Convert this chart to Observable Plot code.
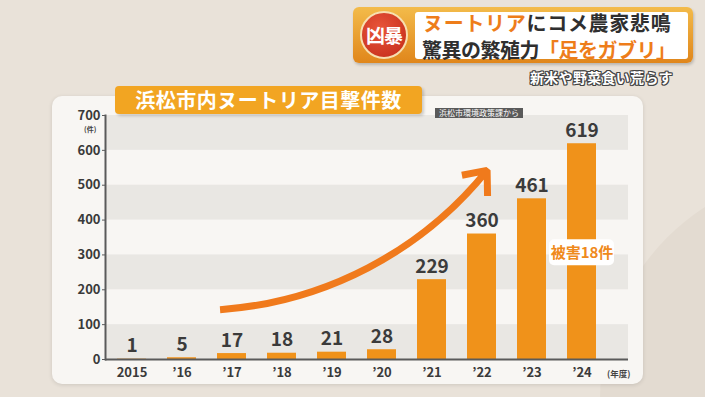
<!DOCTYPE html>
<html>
<head>
<meta charset="utf-8">
<script src="https://cdn.jsdelivr.net/npm/d3@7"></script>
<script src="https://cdn.jsdelivr.net/npm/@observablehq/plot@0.6"></script>
<style>
  html, body { margin: 0; padding: 0; }
  body { width: 705px; height: 397px; overflow: hidden; font-family: "Noto Sans CJK JP", "Noto Sans", sans-serif; }
  #wrap { position: relative; width: 705px; height: 397px; background: #e9e2d9; overflow: hidden; }
  #deco { position: absolute; left: 600px; top: 170px; width: 460px; height: 460px; border-radius: 50%; background: #e3dbd1; }
  #card { position: absolute; left: 52px; top: 96px; width: 591px; height: 288px; background: #f8f6f3; border-radius: 10px; box-shadow: 0 1px 4px rgba(0,0,0,0.12); }
  #chart { position: absolute; left: 0; top: 0; }
  .abs { position: absolute; white-space: nowrap; }
  #title { left: 115px; top: 86px; width: 307px; height: 28px; background: #f2a522; border-radius: 4px; box-shadow: 2px 2px 3px rgba(0,0,0,0.18);
           color: #fff; font-weight: 700; font-size: 20px; line-height: 28px; text-align: center; letter-spacing: 0.5px; }
  #source { left: 435px; top: 108px; width: 88px; height: 10px; background: #5a5a5a; color: #fff; font-size: 8px; line-height: 10px; text-align: center; }
  #unit { left: 84px; top: 126px; font-size: 7px; line-height: 7px; color: #444; font-weight: 700; }
  #nendo { left: 607px; top: 368px; font-size: 8.5px; line-height: 10px; color: #444; font-weight: 700; }
  #hframe { left: 353px; top: 7px; width: 340px; height: 56px; border-radius: 6px; background: linear-gradient(#f3bb4a, #e0861b); box-shadow: 1px 2px 3px rgba(0,0,0,0.2); }
  #hbox { left: 415px; top: 12px; width: 273px; height: 47px; background: #fff; border-radius: 3px; }
  #badge { left: 360px; top: 11px; width: 44px; height: 44px; border-radius: 50%; background: radial-gradient(circle at 40% 35%, #e8553a, #c22a18); border: 2px solid #f7dfb0;
           color: #fff; font-weight: 700; font-size: 19px; line-height: 44px; text-align: center; letter-spacing: -1px; }
  .hl { font-weight: 700; font-size: 20px; color: #2f2f2f; line-height: 20px; height: 20px; }
  .or { color: #ee7d1a; }
  #l1 { left: 423px; top: 13px; letter-spacing: 0.7px; }
  #l2 { left: 422px; top: 40px; letter-spacing: -0.5px; }
  #sub { left: 530px; top: 69px; font-size: 14px; line-height: 16px; font-weight: 700; color: #fff; letter-spacing: 0.3px;
         text-shadow: -1px -1px 0 #444, 1px -1px 0 #444, -1px 1px 0 #444, 1px 1px 0 #444, 0 1px 0 #444, 0 -1px 0 #444, 1px 0 0 #444, -1px 0 0 #444; }
</style>
</head>
<body>
<div id="wrap">
  <div id="deco"></div>
  <div id="card"></div>
  <div id="chart"></div>
  <div class="abs" id="title">浜松市内ヌートリア目撃件数</div>
  <div class="abs" id="source">浜松市環境政策課から</div>
  <div class="abs" id="unit">(件)</div>
  <div class="abs" id="nendo">(年度)</div>
  <div class="abs" id="hframe"></div>
  <div class="abs" id="hbox"></div>
  <div class="abs" id="badge">凶暴</div>
  <div class="abs hl" id="l1"><span class="or">ヌートリア</span>にコメ農家悲鳴</div>
  <div class="abs hl" id="l2">驚異の繁殖力<span class="or">「足をガブリ」</span></div>
  <div class="abs" id="sub">新米や野菜食い荒らす</div>
</div>
<script>
// ---- data ----
const years = ["2015", "’16", "’17", "’18", "’19", "’20", "’21", "’22", "’23", "’24"];
const counts = [1, 5, 17, 18, 21, 28, 229, 360, 461, 619];
const yTicks = [0, 100, 200, 300, 400, 500, 600, 700];
const bandStarts = [0, 200, 400, 600];
const bandEnds = [100, 300, 500, 700];
const trendFrom = {year: "’17", value: 146};
const trendTo = {year: "’22", value: 525};
const noteYear = "’24";
const noteValue = 306;
const noteText = "被害18件";

// ---- build tables ----
const data = years.map((y, i) => ({year: y, count: counts[i]}));
const bands = bandStarts.map((s, i) => ({y1: s, y2: bandEnds[i]}));
const trend = [{x1: trendFrom.year, y1: trendFrom.value, x2: trendTo.year, y2: trendTo.value}];
const note = [{year: noteYear, value: noteValue, text: noteText}];

const font = "'Noto Sans CJK JP', 'Noto Sans', sans-serif";

const chart = Plot.plot({
  width: 705,
  height: 397,
  marginLeft: 105,
  marginRight: 77,
  marginTop: 115,
  marginBottom: 38,
  style: {background: "transparent", fontFamily: font, overflow: "visible"},
  x: {domain: years, paddingInner: 0.43, paddingOuter: 0.36, align: 0.28},
  y: {domain: [0, 700]},
  marks: [
    Plot.rect(bands, {y1: "y1", y2: "y2", fill: "#e9e7e3"}),
    Plot.barY(data, {x: "year", y: "count", fill: "#f0921a"}),
    Plot.text(data, {x: "year", y: "count", text: d => String(d.count), dy: -13, fontSize: 19, fontWeight: 700, fill: "#3b3b3b"}),
    Plot.arrow(trend, {x1: "x1", y1: "y1", x2: "x2", y2: "y2", bend: -22, stroke: "#f07a1c", strokeWidth: 7, headLength: 5.5, headAngle: 80, insetStart: -12, insetEnd: -8, strokeLinejoin: "miter", strokeLinecap: "butt"}),
    Plot.rect(note, {x: "year", y1: "value", y2: "value", insetLeft: -18, insetRight: -18, insetTop: -13, insetBottom: -13, rx: 5, fill: "#ffffff"}),
    Plot.text(note, {x: "year", y: "value", text: "text", fontSize: 15, fontWeight: 700, fill: "#ef8a1c"}),
    Plot.ruleY([0], {stroke: "#5a5a5a", strokeWidth: 2}),
    Plot.frame({anchor: "left", stroke: "#5a5a5a", strokeWidth: 2}),
    Plot.axisY({ticks: yTicks, tickSize: 3, tickPadding: 2, fontSize: 13, fontWeight: 700, color: "#3a3a3a", stroke: "#5a5a5a", label: null}),
    Plot.axisX({tickSize: 0, tickPadding: 8, fontSize: 13, fontWeight: 700, color: "#3a3a3a", label: null})
  ]
});
document.getElementById("chart").appendChild(chart);
</script>
</body>
</html>
